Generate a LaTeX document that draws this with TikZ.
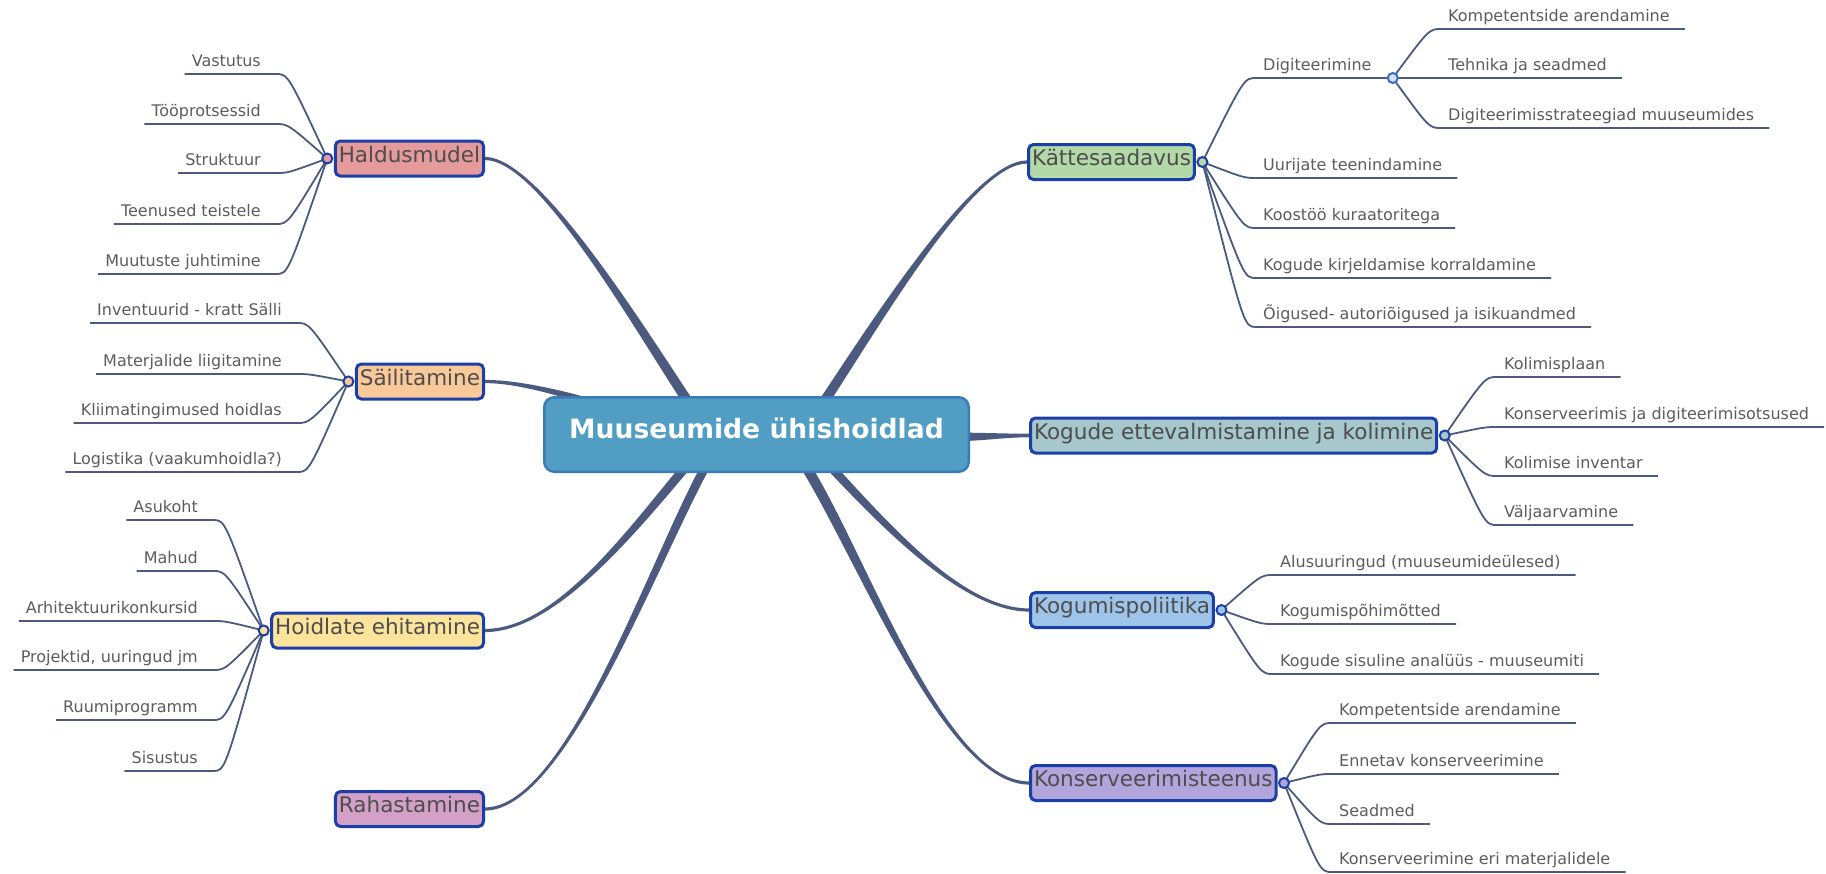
\documentclass[tikz,border=0pt]{standalone}
\usepackage{fontspec}
\setmainfont{DejaVu Sans}
\usetikzlibrary{calc,backgrounds}
\definecolor{linec}{HTML}{4B5A7E}
\definecolor{topborder}{HTML}{1B3FA6}
\definecolor{toptext}{HTML}{4D4D4D}
\definecolor{leaftext}{HTML}{5C5C5C}
\definecolor{cenfill}{HTML}{519DC3}
\definecolor{cenborder}{HTML}{3B7CB8}
\definecolor{halc}{HTML}{E59A9C}
\definecolor{saic}{HTML}{FAC99A}
\definecolor{hoic}{HTML}{FDE49D}
\definecolor{rahc}{HTML}{D3A1C8}
\definecolor{katc}{HTML}{B2D9A7}
\definecolor{ettc}{HTML}{A6C7CB}
\definecolor{polc}{HTML}{9EC4EA}
\definecolor{konc}{HTML}{B1A5DC}
\definecolor{digfill}{HTML}{D5E3F7}
\definecolor{digborder}{HTML}{3C6AC8}
\tikzset{
  topic/.style={draw=topborder, line width=3pt, rounded corners=5pt, inner xsep=3.5pt, inner ysep=0pt,
    minimum height=35pt, text height=0.76em, text depth=0pt, font=\fontsize{21.5}{24}\selectfont, text=toptext},
  leaf/.style={inner xsep=7pt, inner ysep=7pt, text height=0.76em, text depth=0pt,
    font=\fontsize{16}{19}\selectfont, text=leaftext},
  leafL/.style={leaf, anchor=south east},
  leafR/.style={leaf, anchor=south west},
  dot/.style={circle, draw=topborder, line width=2pt, minimum size=10pt, inner sep=0pt},
  conn/.style={draw=linec, line width=1.8pt},
  br/.style={fill=linec},
}
% tapered branch: #1 start, #2 start half offset, #3 c1, #4 c2, #5 end, #6 end half offset
\newcommand\mmbranch[6]{%
  \fill[br] ($#1+#2$) .. controls ($#3+#2$) and ($#4+#6$) .. ($#5+#6$) -- ($#5-#6$)
    .. controls ($#4-#6$) and ($#3-#2$) .. ($#1-#2$) -- cycle;}
\newcommand\leafconL[2]{\draw[conn] (#1.center) .. controls ($(#2.south east)+(20,0)$) .. ($(#2.south east)+(8,0)$) -- (#2.south west);}
\newcommand\leafconR[2]{\draw[conn] (#1.center) .. controls ($(#2.south west)+(-12,0)$) .. (#2.south west) -- ($(#2.south east)+(8,0)$);}
\begin{document}
\begin{tikzpicture}[x=1pt,y=-1pt]
\useasboundingbox (0,0) rectangle (1826,873);

% central node
\node[draw=cenborder, fill=cenfill, line width=2.5pt, rounded corners=10pt, minimum width=424.5pt,
  minimum height=74.5pt, font=\bfseries\fontsize{26.6}{30}\selectfont, text=white,
  text height=0.76em, text depth=0pt] (c) at (756.5,434.5) {Muuseumide ühishoidlad};

% main topics
\node[topic, fill=halc, anchor=east] (hal) at (485,158.5) {Haldusmudel};
\node[topic, fill=saic, anchor=east] (sai) at (485,381.5) {Säilitamine};
\node[topic, fill=hoic, anchor=east] (hoi) at (485,630.5) {Hoidlate ehitamine};
\node[topic, fill=rahc, anchor=east] (rah) at (485,809) {Rahastamine};
\node[topic, fill=katc, anchor=west] (kat) at (1027,162) {Kättesaadavus};
\node[topic, fill=ettc, anchor=west] (ett) at (1029,435.5) {Kogude ettevalmistamine ja kolimine};
\node[topic, fill=polc, anchor=west] (pol) at (1029,610) {Kogumispoliitika};
\node[topic, fill=konc, anchor=west] (kon) at (1029,783) {Konserveerimisteenus};

% connection dots
\node[dot, fill=halc] (hcd) at ($(hal.west)+(-6.5,0)$) {};
\node[dot, fill=saic] (scd) at ($(sai.west)+(-6.5,0)$) {};
\node[dot, fill=hoic] (ecd) at ($(hoi.west)+(-6.5,0)$) {};
\node[dot, fill=katc] (kcd) at ($(kat.east)+(6.5,0)$) {};
\node[dot, fill=ettc] (gcd) at ($(ett.east)+(6.5,0)$) {};
\node[dot, fill=polc] (pcd) at ($(pol.east)+(6.5,0)$) {};
\node[dot, fill=konc] (ncd) at ($(kon.east)+(6.5,0)$) {};

% leaves: Haldusmudel
\node[leafL] (h1) at (268,74) {Vastutus};
\node[leafL] (h2) at (268,124) {Tööprotsessid};
\node[leafL] (h3) at (268,173) {Struktuur};
\node[leafL] (h4) at (268,224) {Teenused teistele};
\node[leafL] (h5) at (268,274) {Muutuste juhtimine};
% Säilitamine
\node[leafL] (s1) at (289,323) {Inventuurid - kratt Sälli};
\node[leafL] (s2) at (289,374) {Materjalide liigitamine};
\node[leafL] (s3) at (289,423) {Kliimatingimused hoidlas};
\node[leafL] (s4) at (289,472) {Logistika (vaakumhoidla?)};
% Hoidlate ehitamine
\node[leafL] (e1) at (205,520) {Asukoht};
\node[leafL] (e2) at (205,571) {Mahud};
\node[leafL] (e3) at (205,621) {Arhitektuurikonkursid};
\node[leafL] (e4) at (205,670) {Projektid, uuringud jm};
\node[leafL] (e5) at (205,720) {Ruumiprogramm};
\node[leafL] (e6) at (205,771) {Sisustus};
% Kättesaadavus
\node[leafR] (dig) at (1256,78) {Digiteerimine};
\node[leafR] (k1) at (1256,178) {Uurijate teenindamine};
\node[leafR] (k2) at (1256,228) {Koostöö kuraatoritega};
\node[leafR] (k3) at (1256,278) {Kogude kirjeldamise korraldamine};
\node[leafR] (k4) at (1256,327) {Õigused- autoriõigused ja isikuandmed};
\node[dot, draw=digborder, fill=digfill] (dcd) at ($(dig.south east)+(14,0)$) {};
\node[leafR] (d1) at (1441,29) {Kompetentside arendamine};
\node[leafR] (d2) at (1441,78) {Tehnika ja seadmed};
\node[leafR] (d3) at (1441,128) {Digiteerimisstrateegiad muuseumides};
% Kogude ettevalmistamine ja kolimine
\node[leafR] (g1) at (1497,377) {Kolimisplaan};
\node[leafR] (g2) at (1497,427) {Konserveerimis ja digiteerimisotsused};
\node[leafR] (g3) at (1497,476) {Kolimise inventar};
\node[leafR] (g4) at (1497,525) {Väljaarvamine};
% Kogumispoliitika
\node[leafR] (p1) at (1273,575) {Alusuuringud (muuseumideülesed)};
\node[leafR] (p2) at (1273,624) {Kogumispõhimõtted};
\node[leafR] (p3) at (1273,674) {Kogude sisuline analüüs - muuseumiti};
% Konserveerimisteenus
\node[leafR] (n1) at (1332,723) {Kompetentside arendamine};
\node[leafR] (n2) at (1332,774) {Ennetav konserveerimine};
\node[leafR] (n3) at (1332,824) {Seadmed};
\node[leafR] (n4) at (1332,872) {Konserveerimine eri materjalidele};

\begin{scope}[on background layer]
  % main branches
  \mmbranch{(700,420)}{(6,0)}{(640,330)}{(540,158.5)}{(hal.east)}{(0,-1.6)}
  \mmbranch{(650,422)}{(0,4.5)}{(600,404)}{(530,381.5)}{(sai.east)}{(0,1.6)}
  \mmbranch{(700,450)}{(6,0)}{(640,520)}{(560,630.5)}{(hoi.east)}{(0,1.6)}
  \mmbranch{(715,450)}{(5,0)}{(660,540)}{(570,809)}{(rah.east)}{(0,1.6)}
  \mmbranch{(812,420)}{(6,0)}{(872,330)}{(972,162)}{(kat.west)}{(0,1.6)}
  \mmbranch{(940,437)}{(0,4.5)}{(985,437)}{(1000,435.5)}{(ett.west)}{(0,1.8)}
  \mmbranch{(815,450)}{(6,0)}{(880,520)}{(960,610)}{(pol.west)}{(0,-1.6)}
  \mmbranch{(795,450)}{(6,0)}{(855,535)}{(940,783)}{(kon.west)}{(0,-1.6)}
  % leaf connectors
  \foreach \n in {h1,h2,h3,h4,h5} {\leafconL{hcd}{\n}}
  \foreach \n in {s1,s2,s3,s4} {\leafconL{scd}{\n}}
  \foreach \n in {e1,e2,e3,e4,e5,e6} {\leafconL{ecd}{\n}}
  \draw[conn] (kcd.center) .. controls ($(dig.south west)+(-12,0)$) .. (dig.south west) -- (dcd.center);
  \foreach \n in {k1,k2,k3,k4} {\leafconR{kcd}{\n}}
  \foreach \n in {d1,d2,d3} {\leafconR{dcd}{\n}}
  \foreach \n in {g1,g2,g3,g4} {\leafconR{gcd}{\n}}
  \foreach \n in {p1,p2,p3} {\leafconR{pcd}{\n}}
  \foreach \n in {n1,n2,n3,n4} {\leafconR{ncd}{\n}}
\end{scope}
\end{tikzpicture}
\end{document}
